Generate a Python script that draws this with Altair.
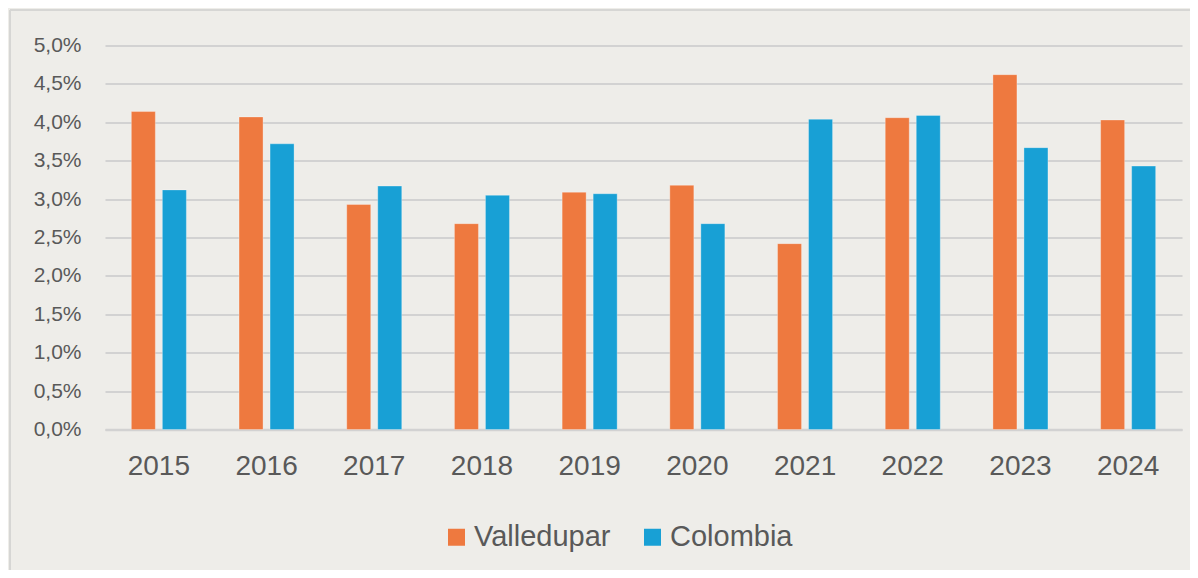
import altair as alt
import pandas as pd

years = ["2015", "2016", "2017", "2018", "2019", "2020", "2021", "2022", "2023", "2024"]
valledupar = [4.14, 4.07, 2.93, 2.68, 3.09, 3.18, 2.42, 4.06, 4.62, 4.03]
colombia = [3.12, 3.72, 3.17, 3.05, 3.07, 2.68, 4.04, 4.09, 3.67, 3.43]
series = ["Valledupar", "Colombia"]
colors = ["#EE793F", "#18A0D5"]
y_ticks = [0, 0.5, 1, 1.5, 2, 2.5, 3, 3.5, 4, 4.5, 5]

rows = []
for i, yr in enumerate(years):
    rows.append({"year": yr, "serie": series[0], "value": valledupar[i]})
    rows.append({"year": yr, "serie": series[1], "value": colombia[i]})
df = pd.DataFrame(rows)

FONT = "Liberation Sans"
TXT = "#595959"
GRID = "#D2D2D2"

bars = alt.Chart(df).mark_bar(stroke="white", strokeOpacity=0.3, strokeWidth=1).encode(
    x=alt.X("year:N", sort=years, title=None,
            scale=alt.Scale(paddingInner=0.489, paddingOuter=0.2445),
            axis=alt.Axis(labelAngle=0, labelFontSize=28, labelColor=TXT, labelFont=FONT,
                          labelPadding=23, ticks=False, domainColor=GRID, domainWidth=2.5,
                          grid=False)),
    xOffset=alt.XOffset("serie:N", sort=series,
                        scale=alt.Scale(paddingInner=0.226, paddingOuter=0)),
    y=alt.Y("value:Q", title=None,
            scale=alt.Scale(domain=[0, 5], nice=False, zero=True),
            axis=alt.Axis(values=y_ticks, labelFontSize=21, labelColor=TXT, labelFont=FONT,
                          labelPadding=24, ticks=False, domain=False, gridColor=GRID,
                          gridWidth=2, labelExpr="replace(format(datum.value, '.1f'), '.', ',') + '%'")),
    color=alt.Color("serie:N", sort=series,
                    scale=alt.Scale(domain=series, range=colors),
                    legend=alt.Legend(title=None, orient="none", legendX=337, legendY=477,
                                      direction="horizontal", symbolType="square",
                                      symbolSize=289, symbolStrokeWidth=0, labelFontSize=29,
                                      labelColor=TXT, labelFont=FONT, labelOffset=3,
                                      columnPadding=27)),
)

frame_df = pd.DataFrame({"k": [0]})
frame_top = alt.Chart(frame_df).mark_rule(color="#D6D6D4", strokeWidth=2).encode(
    x=alt.value(-95), x2=alt.value(1200), y=alt.value(-35.5))
frame_left = alt.Chart(frame_df).mark_rule(color="#D6D6D4", strokeWidth=2).encode(
    x=alt.value(-95), y=alt.value(-35.5), y2=alt.value(600))

chart = alt.layer(frame_top, frame_left, bars).properties(
    width=1077, height=384,
    autosize=alt.AutoSizeParams(type="none"),
    padding={"left": 97, "top": 37.5, "right": 8, "bottom": 140.5},
    background="#EEEDE9",
).configure_view(stroke=None)

chart.save("out.html", embed_options={"renderer": "svg", "actions": False})
